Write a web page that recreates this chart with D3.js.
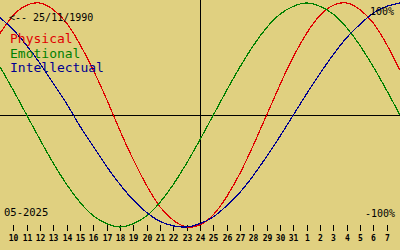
<!DOCTYPE html>
<html>
<head>
<meta charset="utf-8">
<script src="https://cdn.jsdelivr.net/npm/d3@7"></script>
<style>
  body { margin: 0; background: #e0d080; }
  svg { display: block; }
  text { font-family: "DejaVu Sans Mono", monospace; }
</style>
</head>
<body>
<div id="chart"></div>
<script>
// days shown, from 9 May to 8 June 2025 (index 0..30)
var tickLabels = ["10","11","12","13","14","15","16","17","18","19","20","21","22","23","24",
  "25","26","27","28","29","30","31","1","2","3","4","5","6","7"];
var physical = [73,89,98,100,94,82,63,40,14,-14,-40,-63,-82,-94,-100,-98,-89,-73,-52,-27,
  0,27,52,73,89,98,100,94,82,63,40];
var emotional = [43,22,0,-22,-43,-62,-78,-90,-97,-100,-97,-90,-78,-62,-43,-22,
  0,22,43,62,78,90,97,100,97,90,78,62,43,22,0];
var intellectual = [87,76,62,46,28,10,-10,-28,-46,-62,-76,-87,-95,-99,-100,-97,-91,-81,-69,-54,-37,-19,
  0,19,37,54,69,81,91,97,100];
var seriesNames = ["Physical", "Emotional", "Intellectual"];
var seriesColors = ["#e00000", "#008000", "#000090"];
var todayIndex = 15;
var birthLabel = "<-- 25/11/1990";
var monthLabel = "05-2025";

var width = 400, height = 250;

var svg = d3.select("#chart").append("svg")
  .attr("width", width)
  .attr("height", height);

svg.append("rect").attr("width", width).attr("height", height).attr("fill", "#e0d080");

var x = d3.scaleLinear().domain([0, 30]).range([0, 400]);
var y = d3.scaleLinear().domain([-100, 100]).range([227, 3]);

// zero line and today marker
svg.append("line")
  .attr("x1", 0).attr("x2", width)
  .attr("y1", Math.round(y(0)) + 0.5).attr("y2", Math.round(y(0)) + 0.5)
  .attr("stroke", "#000").attr("stroke-width", 1);

svg.append("line")
  .attr("x1", Math.round(x(todayIndex)) + 0.5).attr("x2", Math.round(x(todayIndex)) + 0.5)
  .attr("y1", 0).attr("y2", 231)
  .attr("stroke", "#000").attr("stroke-width", 1);

// day ticks
var ticks = svg.append("g");
tickLabels.forEach(function(lbl, i) {
  var tx = Math.round(x(i + 1)) + 0.5;
  ticks.append("line")
    .attr("x1", tx).attr("x2", tx)
    .attr("y1", 225).attr("y2", 231)
    .attr("stroke", "#000").attr("stroke-width", 1);
  ticks.append("text")
    .attr("x", tx).attr("y", 241)
    .attr("text-anchor", "middle")
    .attr("font-size", "8px")
    .attr("font-weight", "bold")
    .text(lbl);
});

// the three curves
var line = d3.line()
  .x(function(d, i) { return x(i); })
  .y(function(d) { return y(d); })
  .curve(d3.curveNatural);

[physical, emotional, intellectual].forEach(function(s, k) {
  svg.append("path")
    .datum(s)
    .attr("d", line)
    .attr("fill", "none")
    .attr("stroke", seriesColors[k])
    .attr("stroke-width", 1.2)
    .attr("shape-rendering", "crispEdges");
});

// texts
svg.append("text").attr("x", 9).attr("y", 21).attr("font-size", "10px").text(birthLabel);

seriesNames.forEach(function(n, k) {
  svg.append("text")
    .attr("x", 10).attr("y", 43 + k * 14.5)
    .attr("font-size", "13px")
    .attr("fill", seriesColors[k])
    .text(n);
});

svg.append("text").attr("x", 394).attr("y", 15).attr("text-anchor", "end")
  .attr("font-size", "10px").text("100%");
svg.append("text").attr("x", 395).attr("y", 217).attr("text-anchor", "end")
  .attr("font-size", "10px").text("-100%");
svg.append("text").attr("x", 4).attr("y", 216).attr("font-size", "10.5px").text(monthLabel);
</script>
</body>
</html>
